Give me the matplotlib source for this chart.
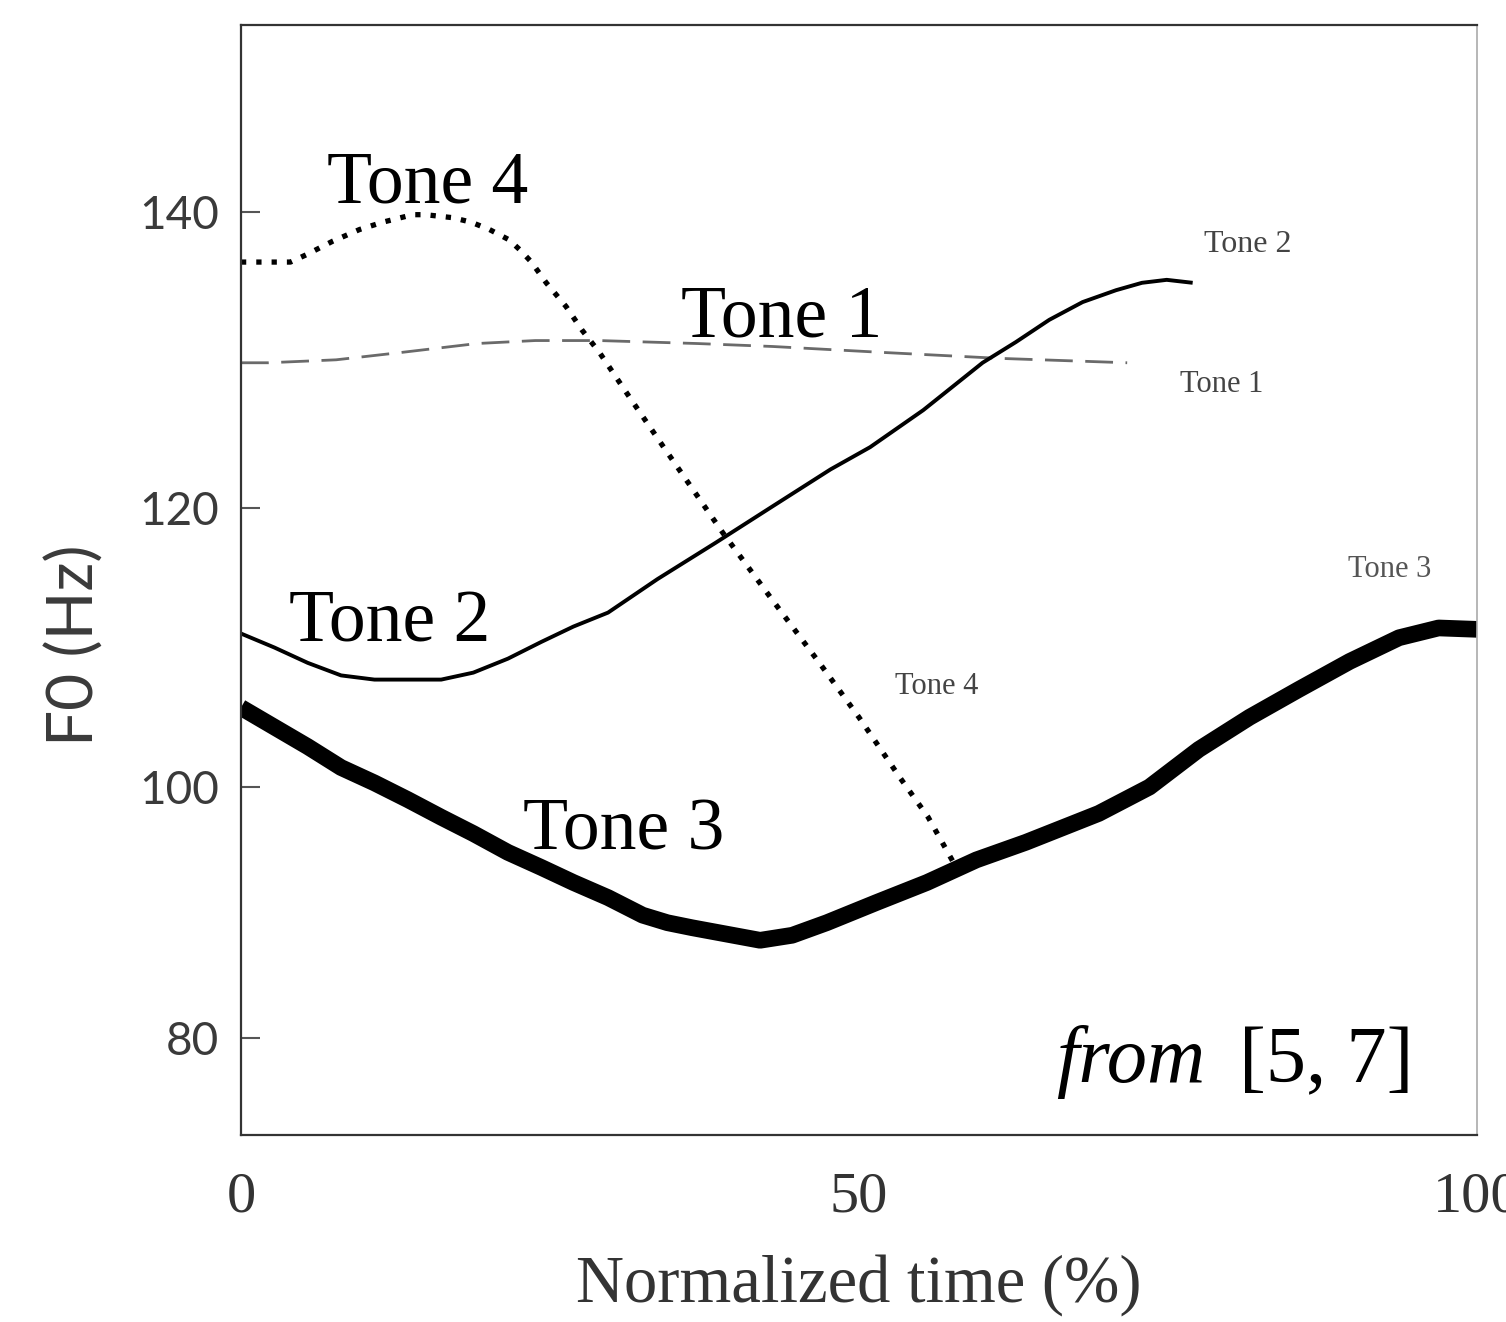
import numpy as np
import matplotlib.pyplot as plt

# F0 contours of the four Mandarin tones (normalized time %, Hz)
t1_time = [0, 2.2, 7.7, 13.0, 19.1, 23.8, 29.0, 36.9, 43.0, 51.9, 61.3, 71.7]
t1_f0 = [129.8, 129.8, 130.0, 130.5, 131.1, 131.3, 131.3, 131.1, 130.9, 130.5, 130.1, 129.8]

t2_time = [0, 2.7, 5.4, 8.1, 10.8, 13.5, 16.2, 18.8, 21.6, 24.3, 26.9, 29.7, 33.7,
           38.4, 43.0, 47.7, 50.9, 55.2, 57.3, 60.0, 62.7, 65.4, 68.1, 70.8, 72.9, 74.9, 77.0]
t2_f0 = [111.0, 110.0, 108.9, 108.0, 107.7, 107.7, 107.7, 108.2, 109.2, 110.4, 111.5, 112.5, 114.9,
         117.5, 120.1, 122.6, 124.1, 126.6, 128.0, 129.8, 131.2, 132.7, 133.9, 134.7, 135.2, 135.4, 135.2]

t3_time = [0, 2.7, 5.4, 8.1, 10.8, 13.5, 16.2, 18.8, 21.6, 24.3, 26.9, 29.7, 32.5, 34.5, 36.5, 39.8,
           42.0, 44.6, 47.4, 51.4, 55.5, 59.5, 63.5, 69.4, 73.5, 77.5, 81.6, 85.6, 89.7,
           93.7, 96.9, 100]
t3_f0 = [105.7, 104.3, 102.9, 101.4, 100.3, 99.0, 97.6, 96.3, 94.8, 93.6, 92.4, 91.2, 89.8, 89.2, 88.8, 88.2,
         87.8, 88.2, 89.2, 90.8, 92.4, 94.2, 95.6, 97.9, 100.0, 102.7, 105.0, 107.0, 109.0,
         110.7, 111.4, 111.3]

t4_time = [0, 4.0, 5.3, 7.4, 9.6, 11.5, 13.9, 14.9, 17.1, 18.6, 20.1, 21.7, 22.6, 23.5,
           24.7, 26.3, 27.6, 29.0, 31.5, 34.2, 39.0, 43.0, 46.8, 50.0, 53.3, 55.6, 57.7]
t4_f0 = [136.6, 136.6, 137.1, 138.0, 138.8, 139.3, 139.8, 139.8, 139.6, 139.3, 138.8, 138.1, 137.4, 136.6,
         135.2, 133.6, 132.0, 130.5, 127.4, 124.1, 118.2, 113.4, 108.9, 105.0, 100.7, 97.6, 93.9]

y_ticks = [80, 100, 120, 140]
x_ticks = [0, 50, 100]

# the original axis is unevenly spaced between its ticks
scale_hz = [0, 80, 100, 120, 140, 300]
scale_pos = [-1004, 0, 251, 530, 826, 3194]


def fwd(v):
    return np.interp(v, scale_hz, scale_pos)


def inv(p):
    return np.interp(p, scale_pos, scale_hz)


serif = 'Liberation Serif'
sans = 'Lato'

fig = plt.figure(figsize=(15.06, 13.22), dpi=100)
ax = fig.add_axes([0.16, 0.1415, 0.8207, 0.8395])
ax.set_yscale('function', functions=(fwd, inv))

ax.plot(t1_time, t1_f0, color='#6a6a6a', lw=2.0, linestyle=(0, (10, 4.5)))
ax.plot(t2_time, t2_f0, color='black', lw=2.8, solid_capstyle='butt', solid_joinstyle='round')
ax.plot(t3_time, t3_f0, color='black', lw=12, solid_capstyle='butt', solid_joinstyle='round')
ax.plot(t4_time, t4_f0, color='black', lw=3.8, linestyle=(0, (1, 1.9)))

ax.set_xlim(0, 100)
ax.set_ylim(72.3, 152.6)
ax.set_yticks(y_ticks)
ax.set_yticklabels([str(v) for v in y_ticks], fontsize=33, family=sans, color='#3a3a3a')
ax.set_xticks(x_ticks)
ax.set_xticklabels([str(v) for v in x_ticks], fontsize=42, family=serif, color='#333333')
ax.tick_params(axis='y', direction='in', length=14, width=1.5, color='#555555', pad=16)
ax.tick_params(axis='x', length=0, pad=26)

for side in ['left', 'bottom', 'top']:
    ax.spines[side].set_color('#333333')
    ax.spines[side].set_linewidth(1.6)
ax.spines['right'].set_color('#aaaaaa')
ax.spines['right'].set_linewidth(1.2)

ax.set_xlabel('Normalized time (%)', fontsize=48, family=serif, color='#333333', labelpad=22)
ax.set_ylabel('F0 (Hz)', fontsize=46, family=sans, color='#3a3a3a')
ax.yaxis.set_label_coords(-0.110, 0.441)

# large tone labels
ax.text(7.0, 140.6, 'Tone 4', fontsize=53, family=serif, ha='left', va='baseline')
ax.text(35.6, 131.55, 'Tone 1', fontsize=53, family=serif, ha='left', va='baseline')
ax.text(3.9, 110.4, 'Tone 2', fontsize=53, family=serif, ha='left', va='baseline')
ax.text(22.8, 95.0, 'Tone 3', fontsize=53, family=serif, ha='left', va='baseline')

# small labels from the original figure
ax.text(77.9, 137.3, 'Tone 2', fontsize=23, family=serif, color='#444444', ha='left', va='baseline')
ax.text(76.0, 127.8, 'Tone 1', fontsize=22, family=serif, color='#444444', ha='left', va='baseline')
ax.text(52.9, 106.7, 'Tone 4', fontsize=22, family=serif, color='#444444', ha='left', va='baseline')
ax.text(89.6, 115.05, 'Tone 3', fontsize=22, family=serif, color='#555555', ha='left', va='baseline')

ax.text(78.0, 76.5, 'from', fontsize=58, family=serif, style='italic', ha='right', va='baseline')
ax.text(94.9, 76.5, '[5, 7]', fontsize=58, family=serif, ha='right', va='baseline')

fig.savefig('out.png', dpi=100)
